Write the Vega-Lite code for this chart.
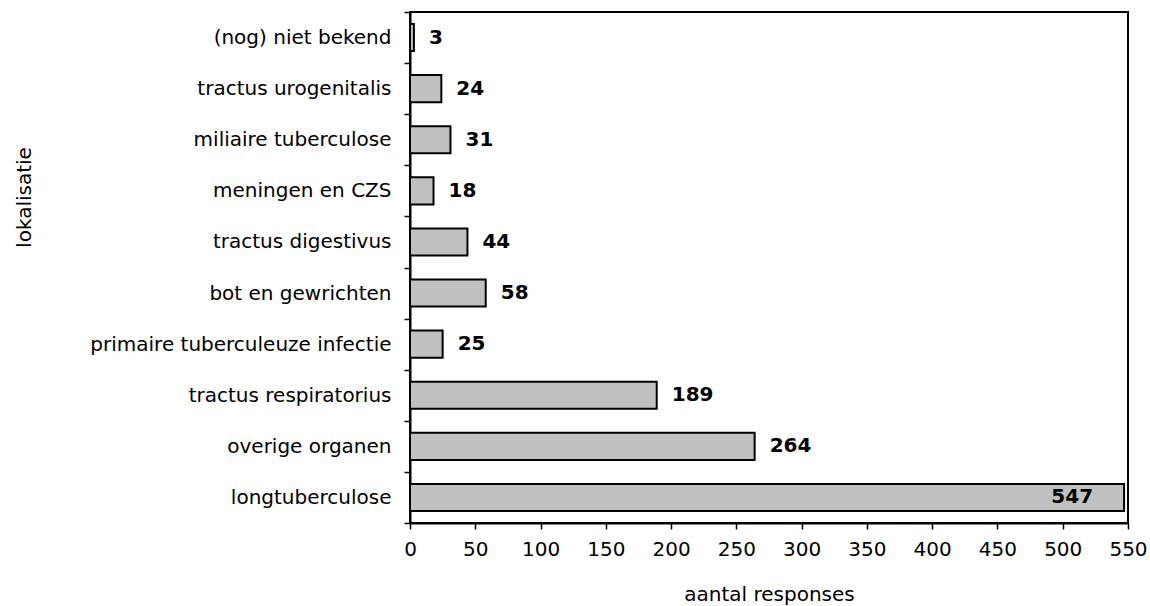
{
  "$schema": "https://vega.github.io/schema/vega-lite/v6.json",
  "width": 718,
  "height": 511,
  "autosize": {"type": "none"},
  "padding": {"left": 410, "top": 12, "right": 22, "bottom": 83},
  "background": "white",
  "config": {
    "font": "DejaVu Sans",
    "view": {"stroke": "#000000", "strokeWidth": 2},
    "axis": {"grid": false, "domainColor": "#000000", "tickColor": "#000000", "domainWidth": 2, "tickWidth": 1.5, "labelColor": "#000000", "titleColor": "#000000", "labelFont": "DejaVu Sans", "titleFont": "DejaVu Sans", "labelFontSize": 20, "titleFontSize": 20, "titleFontWeight": "normal", "labelLimit": 0, "labelFlush": false, "labelOverlap": false}
  },
  "data": {
    "values": [
      {"lokalisatie": "(nog) niet bekend", "n": 3},
      {"lokalisatie": "tractus urogenitalis", "n": 24},
      {"lokalisatie": "miliaire tuberculose", "n": 31},
      {"lokalisatie": "meningen en CZS", "n": 18},
      {"lokalisatie": "tractus digestivus", "n": 44},
      {"lokalisatie": "bot en gewrichten", "n": 58},
      {"lokalisatie": "primaire tuberculeuze infectie", "n": 25},
      {"lokalisatie": "tractus respiratorius", "n": 189},
      {"lokalisatie": "overige organen", "n": 264},
      {"lokalisatie": "longtuberculose", "n": 547}
    ]
  },
  "encoding": {
    "y": {
      "field": "lokalisatie", "type": "nominal", "sort": null,
      "scale": {"paddingInner": 0, "paddingOuter": 0},
      "axis": {"title": "lokalisatie", "tickBand": "extent", "tickSize": 6, "labelPadding": 13, "titleX": -386, "titleY": 185, "titleAngle": -90, "titleAlign": "center", "titleBaseline": "middle"}
    },
    "x": {
      "field": "n", "type": "quantitative",
      "scale": {"domain": [0, 550], "nice": false},
      "axis": {"title": "aantal responses", "values": [0,50,100,150,200,250,300,350,400,450,500,550], "tickSize": 6, "labelPadding": 10, "titleX": 359, "titleY": 71, "titleBaseline": "middle", "titleAlign": "center"}
    }
  },
  "layer": [
    {
      "mark": {"type": "bar", "fill": "#c0c0c0", "stroke": "#000000", "strokeWidth": 2, "height": {"band": 0.53}}
    },
    {
      "transform": [{"filter": "datum.n < 500"}],
      "mark": {"type": "text", "align": "left", "baseline": "middle", "dx": 15, "fontWeight": "bold", "fontSize": 20, "color": "#000000"},
      "encoding": {"text": {"field": "n", "type": "quantitative"}}
    },
    {
      "transform": [{"filter": "datum.n >= 500"}],
      "mark": {"type": "text", "align": "right", "baseline": "middle", "dx": -31, "fontWeight": "bold", "fontSize": 20, "color": "#000000"},
      "encoding": {"text": {"field": "n", "type": "quantitative"}}
    }
  ]
}
